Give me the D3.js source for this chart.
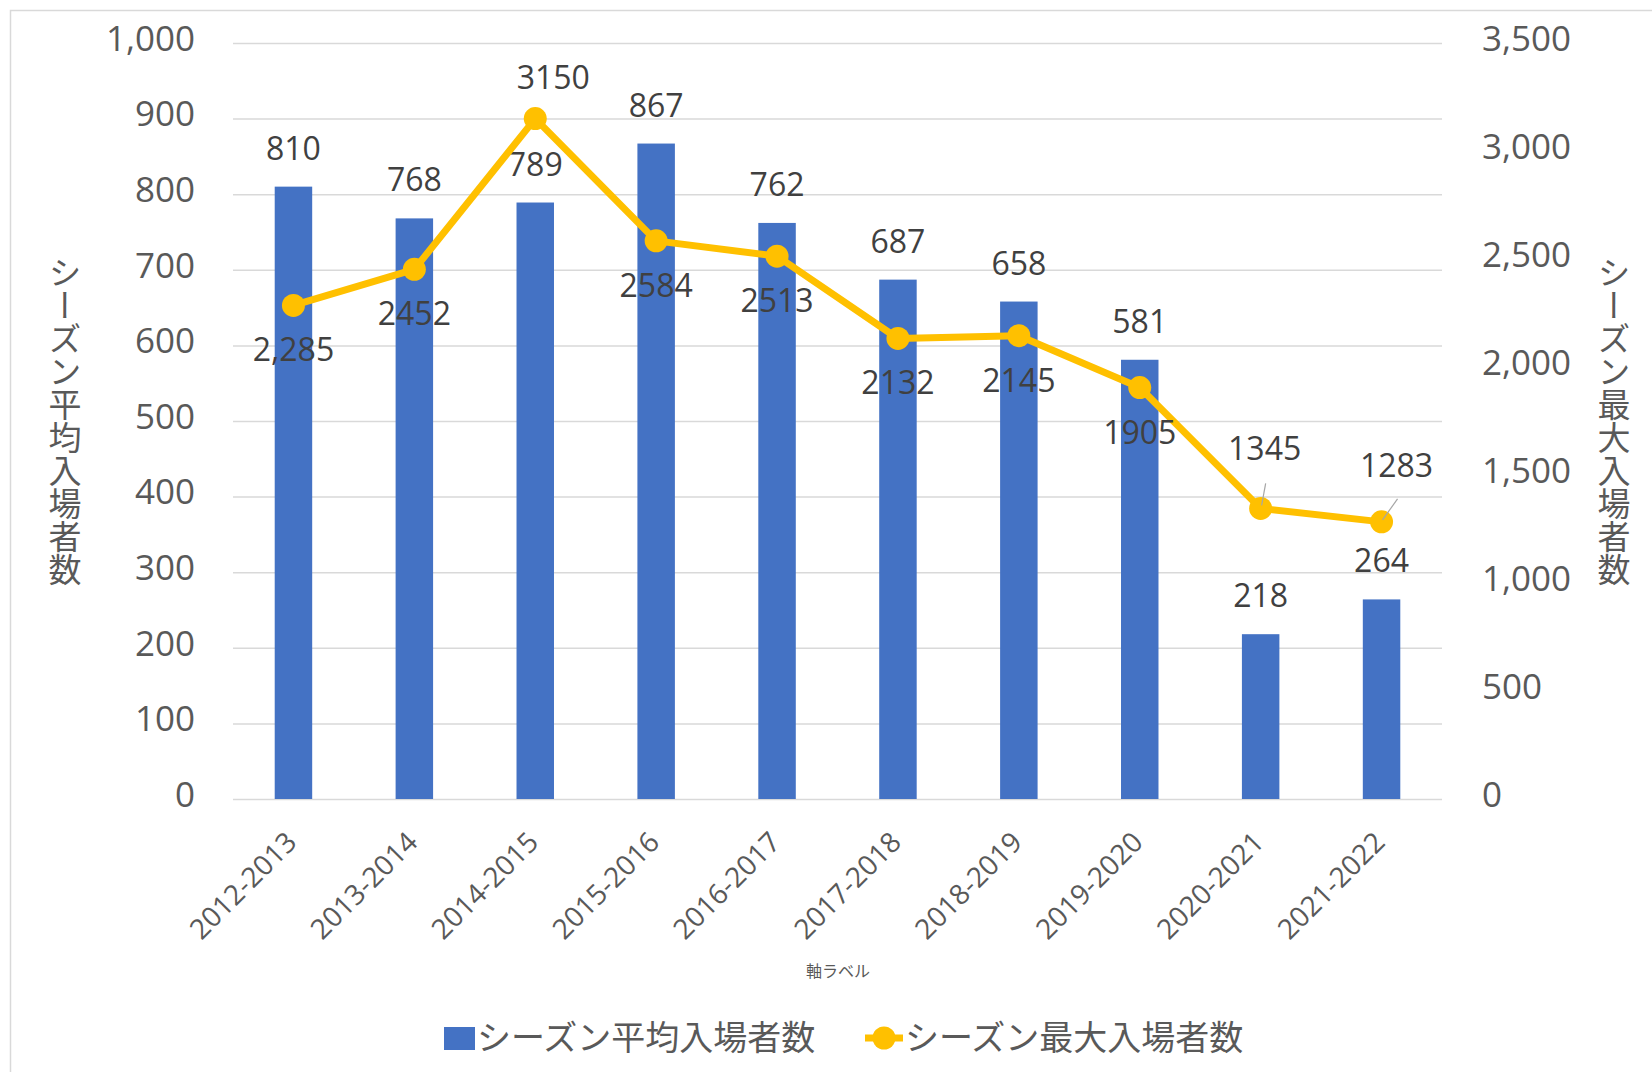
<!DOCTYPE html>
<html>
<head>
<meta charset="utf-8">
<script src="https://cdn.jsdelivr.net/npm/d3@7"></script>
<style>
  html, body { margin: 0; padding: 0; background: #fff; }
  svg { display: block; }
  .num { font-family: "Open Sans", "Noto Sans CJK JP", sans-serif; }
  .jp { font-family: "Noto Sans CJK JP", sans-serif; }
</style>
</head>
<body>
<div id="chart"></div>
<script>
// data
const seasons = ['2012-2013', '2013-2014', '2014-2015', '2015-2016', '2016-2017',
                 '2017-2018', '2018-2019', '2019-2020', '2020-2021', '2021-2022'];
const avgAttendance = [810, 768, 789, 867, 762, 687, 658, 581, 218, 264];
const maxAttendance = [2285, 2452, 3150, 2584, 2513, 2132, 2145, 1905, 1345, 1283];
const leftTicks = [0, 100, 200, 300, 400, 500, 600, 700, 800, 900, 1000];
const rightTicks = [0, 500, 1000, 1500, 2000, 2500, 3000, 3500];
const avgName = 'シーズン平均入場者数';
const maxName = 'シーズン最大入場者数';
const xTitle = '軸ラベル';

const width = 1652, height = 1072;
const plot = { left: 233, right: 1442, top: 43, bottom: 799 };
const textGray = '#595959';
const labelGray = '#404040';
const gridColor = '#d9d9d9';
const barColor = '#4472c4';
const lineColor = '#ffc000';

const svg = d3.select('#chart')
    .append('svg')
    .attr('width', width)
    .attr('height', height);

// chart border (runs off the right and bottom edges)
svg.append('rect')
    .attr('x', 10.5).attr('y', 10.5)
    .attr('width', width + 50).attr('height', height + 50)
    .attr('fill', 'none')
    .attr('stroke', gridColor)
    .attr('stroke-width', 1.5);

const x = d3.scaleBand()
    .domain(seasons)
    .range([plot.left, plot.right])
    .paddingInner(0.69)
    .paddingOuter(0.345);

const y = d3.scaleLinear()
    .domain([0, 1000])
    .range([plot.bottom, plot.top]);

const y2 = d3.scaleLinear()
    .domain([0, 3500])
    .range([plot.bottom, plot.top]);

// Left axis + gridlines
const leftAxis = svg.append('g')
    .attr('class', 'num')
    .attr('transform', `translate(${plot.left},0)`)
    .call(d3.axisLeft(y)
        .tickValues(leftTicks)
        .tickSize(-(plot.right - plot.left))
        .tickPadding(38)
        .tickFormat(d3.format(',')));
leftAxis.select('.domain').remove();
leftAxis.selectAll('line').attr('stroke', gridColor).attr('stroke-width', 1.5);
leftAxis.selectAll('text')
    .attr('fill', textGray)
    .attr('font-size', 35)
    .attr('dy', '0.21em');

// Right axis
const rightAxis = svg.append('g')
    .attr('class', 'num')
    .attr('transform', `translate(${plot.right},0)`)
    .call(d3.axisRight(y2)
        .tickValues(rightTicks)
        .tickSize(0)
        .tickPadding(40)
        .tickFormat(d3.format(',')));
rightAxis.select('.domain').remove();
rightAxis.selectAll('text')
    .attr('fill', textGray)
    .attr('font-size', 35)
    .attr('dy', '0.21em');

// Category axis
const bottomAxis = svg.append('g')
    .attr('class', 'num')
    .attr('transform', `translate(0,${plot.bottom})`)
    .call(d3.axisBottom(x).tickSize(0).tickPadding(0));
bottomAxis.select('.domain').remove();
bottomAxis.selectAll('text')
    .attr('fill', textGray)
    .attr('font-size', 28)
    .attr('text-anchor', 'end')
    .attr('dy', '0.35em')
    .attr('transform', 'translate(-2,38) rotate(-45)');

// Bars
svg.selectAll('.bar')
    .data(avgAttendance)
    .enter()
    .append('rect')
    .attr('class', 'bar')
    .attr('x', (d, i) => x(seasons[i]))
    .attr('y', d => y(d))
    .attr('width', x.bandwidth())
    .attr('height', d => y(0) - y(d))
    .attr('fill', barColor);

// Bar labels
svg.selectAll('.bar-label')
    .data(avgAttendance)
    .enter()
    .append('text')
    .attr('class', 'bar-label num')
    .attr('x', (d, i) => x(seasons[i]) + x.bandwidth() / 2)
    .attr('y', d => y(d) - 27)
    .attr('text-anchor', 'middle')
    .attr('font-size', 32)
    .attr('fill', labelGray)
    .text(d => d);

// Line
const cx = i => x(seasons[i]) + x.bandwidth() / 2;
const line = d3.line()
    .x((d, i) => cx(i))
    .y(d => y2(d));

svg.append('path')
    .datum(maxAttendance)
    .attr('fill', 'none')
    .attr('stroke', lineColor)
    .attr('stroke-width', 7)
    .attr('stroke-linejoin', 'round')
    .attr('d', line);

svg.selectAll('.dot')
    .data(maxAttendance)
    .enter()
    .append('circle')
    .attr('class', 'dot')
    .attr('cx', (d, i) => cx(i))
    .attr('cy', d => y2(d))
    .attr('r', 11.5)
    .attr('fill', lineColor);

// Line labels: most sit under the point, the peak above, the last two were dragged
// up with leader lines
const labelOffset = i => {
    if (i === 2) return { dx: 18, dy: -30 };
    if (i === 8) return { dx: 4, dy: -48, leader: [5, -25, 1, -3] };
    if (i === 9) return { dx: 15, dy: -45, leader: [16, -23, 1, -2] };
    return { dx: 0, dy: 56 };
};

maxAttendance.forEach((v, i) => {
    const o = labelOffset(i);
    const px = cx(i), py = y2(v);
    if (o.leader) {
        svg.append('line')
            .attr('x1', px + o.leader[0]).attr('y1', py + o.leader[1])
            .attr('x2', px + o.leader[2]).attr('y2', py + o.leader[3])
            .attr('stroke', '#a6a6a6')
            .attr('stroke-width', 1.2);
    }
    svg.append('text')
        .attr('class', 'num')
        .attr('x', px + o.dx)
        .attr('y', py + o.dy)
        .attr('text-anchor', 'middle')
        .attr('font-size', 32)
        .attr('fill', labelGray)
        .text(i === 0 ? d3.format(',')(v) : v);
});

// Axis titles
const midY = (plot.top + plot.bottom) / 2;
svg.append('text')
    .attr('class', 'jp')
    .attr('x', 65)
    .attr('y', midY)
    .attr('font-size', 33)
    .attr('fill', textGray)
    .attr('text-anchor', 'middle')
    .style('writing-mode', 'vertical-rl')
    .text(avgName);

svg.append('text')
    .attr('class', 'jp')
    .attr('x', 1614)
    .attr('y', midY)
    .attr('font-size', 33)
    .attr('fill', textGray)
    .attr('text-anchor', 'middle')
    .style('writing-mode', 'vertical-rl')
    .text(maxName);

svg.append('text')
    .attr('class', 'jp')
    .attr('x', 838)
    .attr('y', 977)
    .attr('font-size', 16)
    .attr('fill', textGray)
    .attr('text-anchor', 'middle')
    .text(xTitle);

// Legend
const legend = svg.append('g').attr('transform', 'translate(0,1038)');
legend.append('rect')
    .attr('x', 444).attr('y', -11)
    .attr('width', 31).attr('height', 23)
    .attr('fill', barColor);
legend.append('text')
    .attr('class', 'jp')
    .attr('x', 477).attr('y', 0)
    .attr('dy', '0.35em')
    .attr('font-size', 34)
    .attr('fill', textGray)
    .text(avgName);

legend.append('line')
    .attr('x1', 865).attr('x2', 903)
    .attr('y1', 0).attr('y2', 0)
    .attr('stroke', lineColor)
    .attr('stroke-width', 7);
legend.append('circle')
    .attr('cx', 884).attr('cy', 0)
    .attr('r', 11.5)
    .attr('fill', lineColor);
legend.append('text')
    .attr('class', 'jp')
    .attr('x', 905).attr('y', 0)
    .attr('dy', '0.35em')
    .attr('font-size', 34)
    .attr('fill', textGray)
    .text(maxName);
</script>
</body>
</html>
